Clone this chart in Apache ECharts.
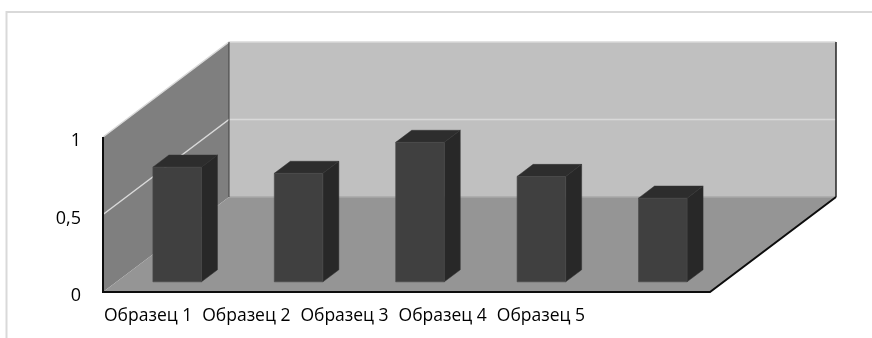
<!DOCTYPE html>
<html><head><meta charset="utf-8">
<script src="https://cdn.jsdelivr.net/npm/echarts@6/dist/echarts.min.js"></script>
<style>html,body{margin:0;padding:0;background:#fff}#c{width:872px;height:338px}</style>
</head><body><div id="c"></div>
<script>
var categories = ['Образец 1', 'Образец 2', 'Образец 3', 'Образец 4', 'Образец 5'];
var values = [0.74, 0.70, 0.90, 0.68, 0.54];
var yTicks = [0, 0.5, 1];

// projection style constants
var DX = 126, DY = -95;        // depth of the box
var BAR_F = 0.107;             // depth position of bar front face
var BAR_D = 0.127;             // bar depth fraction
var BAR_W = 0.40;              // bar width as fraction of band
var FONT = '"Open Sans", sans-serif';

var chart = echarts.init(document.getElementById('c'), null, {renderer: 'canvas'});

function wallsRender(params, api) {
  var cs = params.coordSys;
  var x0 = cs.x, x1 = cs.x + cs.width;
  var yb = api.coord([0, 0])[1], yt = api.coord([0, 1])[1];
  var ch = [];
  ch.push({type: 'polygon', shape: {points: [[x0, yt], [x0 + DX, yt + DY], [x0 + DX, yb + DY], [x0, yb]]},
    style: {fill: '#7f7f7f'}});
  ch.push({type: 'polygon', shape: {points: [[x0 + DX, yt + DY], [x1 + DX, yt + DY], [x1 + DX, yb + DY], [x0 + DX, yb + DY]]},
    style: {fill: '#c0c0c0'}});
  ch.push({type: 'polygon', shape: {points: [[x0, yb], [x0 + DX, yb + DY], [x1 + DX, yb + DY], [x1, yb]]},
    style: {fill: '#959595'}});
  ch.push({type: 'polyline', shape: {points: [[x0 + DX, yb + DY], [x1 + DX, yb + DY]]},
    style: {stroke: '#a8a8a8', lineWidth: 1.5, fill: null}});
  yTicks.forEach(function (t) {
    if (t === 0) return;
    var y = api.coord([0, t])[1];
    ch.push({type: 'polyline', shape: {points: [[x0, y], [x0 + DX, y + DY], [x1 + DX, y + DY]]},
      style: {stroke: '#d9d9d9', lineWidth: 1.5, fill: null}});
  });
  ch.push({type: 'line', shape: {x1: x0 + DX, y1: yt + DY, x2: x0 + DX, y2: yb + DY},
    style: {stroke: '#404040', lineWidth: 1}});
  ch.push({type: 'line', shape: {x1: x1 + DX, y1: yt + DY, x2: x1 + DX, y2: yb + DY},
    style: {stroke: '#262626', lineWidth: 1.5}});
  ch.push({type: 'polyline', shape: {points: [[x0, yt], [x0, yb], [x1, yb], [x1 + DX, yb + DY]]},
    style: {stroke: '#0d0d0d', lineWidth: 2, fill: null}});
  return {type: 'group', children: ch};
}

function barRender(params, api) {
  var i = api.value(0), v = api.value(1);
  var band = api.size([1, 0])[0];
  var c0 = api.coord([i, 0]), c1 = api.coord([i, v]);
  var w = band * BAR_W;
  var ox = DX * BAR_F, oy = DY * BAR_F;
  var dx = DX * BAR_D, dy = DY * BAR_D;
  var xl = c0[0] - w / 2 + ox, xr = xl + w;
  var yb = c0[1] + oy, yt = c1[1] + oy;
  return {type: 'group', children: [
    {type: 'polygon', shape: {points: [[xr, yt], [xr + dx, yt + dy], [xr + dx, yb + dy], [xr, yb]]},
      style: {fill: '#282828', stroke: '#333', lineWidth: 0.5}},
    {type: 'polygon', shape: {points: [[xl, yt], [xl + dx, yt + dy], [xr + dx, yt + dy], [xr, yt]]},
      style: {fill: '#2d2d2d', stroke: '#333', lineWidth: 0.5}},
    {type: 'rect', shape: {x: xl, y: yt, width: w, height: yb - yt},
      style: {fill: '#404040', stroke: '#4a4a4a', lineWidth: 0.6}}
  ]};
}

chart.setOption({
  animation: false,
  graphic: [{type: 'polyline', shape: {points: [[6.5, 338], [6.5, 12], [872, 12]]},
    style: {stroke: '#d9d9d9', lineWidth: 2, fill: null}, z: -10}],
  grid: [
    {left: 103, right: 162, top: 137, bottom: 46},
    {left: 99, right: 282, top: 137, bottom: 46}
  ],
  xAxis: [
    {type: 'category', gridIndex: 0, data: categories, show: false},
    {type: 'category', gridIndex: 1, data: categories,
      axisLine: {show: false}, axisTick: {show: false},
      axisLabel: {margin: 15, color: '#000', fontSize: 17.5, fontFamily: FONT, interval: 0}}
  ],
  yAxis: [
    {type: 'value', gridIndex: 0, min: yTicks[0], max: yTicks[yTicks.length - 1], interval: 0.5,
      axisLine: {show: false}, axisTick: {show: false}, splitLine: {show: false},
      axisLabel: {margin: 22, color: '#000', fontSize: 18, fontFamily: FONT,
        rich: {v: {color: '#000', fontSize: 18, fontFamily: FONT, padding: [8, 0, 0, 0]}},
        formatter: function (v) { return '{v|' + String(v).replace('.', ',') + '}'; }}},
    {type: 'value', gridIndex: 1, min: 0, max: 1, show: false}
  ],
  series: [
    {type: 'custom', xAxisIndex: 0, yAxisIndex: 0, data: [[0, 0]], renderItem: wallsRender, z: 1, silent: true},
    {type: 'custom', xAxisIndex: 0, yAxisIndex: 0, data: values.map(function (v, i) { return [i, v]; }),
      renderItem: barRender, z: 2}
  ]
});
</script></body></html>
